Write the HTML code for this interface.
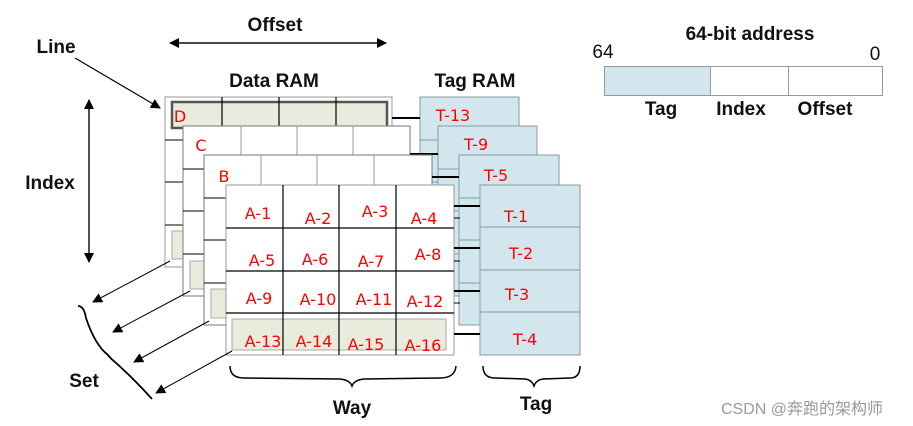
<!DOCTYPE html>
<html><head><meta charset="utf-8"><style>
html,body{margin:0;padding:0;background:#fff;}
svg{display:block;font-family:"Liberation Sans",Arial,sans-serif;}
.b{font-weight:bold;font-size:19px;fill:#111;}
.r{fill:#f00;font-size:16px;text-anchor:middle;font-family:"DejaVu Sans","Liberation Sans",sans-serif;}
</style></head><body>
<svg width="913" height="426" viewBox="0 0 913 426" xmlns="http://www.w3.org/2000/svg">
<defs><marker id="ah" markerWidth="10" markerHeight="10" refX="9" refY="5" orient="auto" markerUnits="userSpaceOnUse"><path d="M0,0 L10,5 L0,10 z" fill="#000"/></marker></defs>

<text x="275" y="31" class="b" text-anchor="middle">Offset</text>
<line x1="170" y1="43" x2="386" y2="43" stroke="#000" stroke-width="1.2" marker-end="url(#ah)"/>
<line x1="386" y1="43" x2="170" y2="43" stroke="#000" stroke-width="1.2" marker-end="url(#ah)"/>
<text x="56" y="53" class="b" text-anchor="middle">Line</text>
<line x1="75" y1="58" x2="160" y2="108" stroke="#000" stroke-width="1.2" marker-end="url(#ah)"/>
<text x="274" y="87" class="b" text-anchor="middle">Data RAM</text>
<text x="475" y="87" class="b" text-anchor="middle">Tag RAM</text>
<text x="50" y="189" class="b" text-anchor="middle">Index</text>
<line x1="89" y1="100" x2="89" y2="262" stroke="#000" stroke-width="1.2" marker-end="url(#ah)"/>
<line x1="89" y1="262" x2="89" y2="100" stroke="#000" stroke-width="1.2" marker-end="url(#ah)"/>

<g stroke="#8a9aa0" stroke-width="1">
<rect x="420" y="97" width="99" height="170" fill="#d2e6ee"/>
<line x1="420" y1="140" x2="519" y2="140"/><line x1="420" y1="182" x2="519" y2="182"/><line x1="420" y1="225" x2="519" y2="225"/>
<rect x="438" y="126" width="99" height="170" fill="#d2e6ee"/>
<line x1="438" y1="169" x2="537" y2="169"/><line x1="438" y1="211" x2="537" y2="211"/><line x1="438" y1="254" x2="537" y2="254"/>
<rect x="459" y="155" width="100" height="170" fill="#d2e6ee"/>
<line x1="459" y1="198" x2="559" y2="198"/><line x1="459" y1="240" x2="559" y2="240"/><line x1="459" y1="283" x2="559" y2="283"/>
<rect x="480" y="185" width="100" height="170" fill="#d2e6ee"/>
<line x1="480" y1="227" x2="580" y2="227"/><line x1="480" y1="270" x2="580" y2="270"/><line x1="480" y1="312" x2="580" y2="312"/>
</g>

<rect x="165" y="97" width="227" height="170" fill="#fff" stroke="#999"/>
<g stroke="#000"><line x1="165" y1="140" x2="392" y2="140"/><line x1="165" y1="182" x2="392" y2="182"/><line x1="165" y1="225" x2="392" y2="225"/></g>
<rect x="172" y="102" width="215" height="26" fill="#e8ecdc" stroke="#555" stroke-width="2.5"/>
<g stroke="#000" stroke-width="1.2"><line x1="222" y1="97" x2="222" y2="128"/><line x1="279" y1="97" x2="279" y2="128"/><line x1="336" y1="97" x2="336" y2="128"/></g>
<rect x="172" y="231" width="215" height="28" fill="#e8ecdc" stroke="#aaa"/>
<text x="180" y="122" class="r">D</text>
<line x1="392" y1="118" x2="420" y2="118" stroke="#000" stroke-width="2"/>
<text x="453" y="121" class="r">T-13</text>

<rect x="183" y="126" width="227" height="170" fill="#fff" stroke="#777"/>
<g stroke="#999"><line x1="241" y1="126" x2="241" y2="155"/><line x1="297" y1="126" x2="297" y2="155"/><line x1="353" y1="126" x2="353" y2="155"/></g>
<g stroke="#000"><line x1="183" y1="169" x2="410" y2="169"/><line x1="183" y1="211" x2="410" y2="211"/><line x1="183" y1="254" x2="410" y2="254"/></g>
<rect x="190" y="261" width="215" height="28" fill="#e8ecdc" stroke="#aaa"/>
<text x="201" y="151" class="r">C</text>
<line x1="410" y1="154" x2="438" y2="154" stroke="#000" stroke-width="2"/>
<text x="476" y="150" class="r">T-9</text>

<rect x="204" y="155" width="228" height="170" fill="#fff" stroke="#777"/>
<g stroke="#999"><line x1="261" y1="155" x2="261" y2="185"/><line x1="317" y1="155" x2="317" y2="185"/><line x1="374" y1="155" x2="374" y2="185"/></g>
<g stroke="#000"><line x1="204" y1="198" x2="432" y2="198"/><line x1="204" y1="240" x2="432" y2="240"/><line x1="204" y1="283" x2="432" y2="283"/></g>
<rect x="211" y="289" width="215" height="29" fill="#e8ecdc" stroke="#aaa"/>
<text x="224" y="182" class="r">B</text>
<line x1="432" y1="177" x2="459" y2="177" stroke="#000" stroke-width="2"/>
<text x="496" y="181" class="r">T-5</text>

<rect x="226" y="185" width="228" height="170" fill="#fff" stroke="#999"/>
<rect x="232" y="319" width="214" height="31" fill="#e8ecdc" stroke="#aaa"/>
<g stroke="#000" stroke-width="1.2">
<line x1="226" y1="228" x2="454" y2="228"/><line x1="226" y1="271" x2="454" y2="271"/><line x1="226" y1="313" x2="454" y2="313"/>
<line x1="283" y1="185" x2="283" y2="355"/><line x1="339" y1="185" x2="339" y2="355"/><line x1="396" y1="185" x2="396" y2="355"/>
</g>
<g stroke="#000" stroke-width="2">
<line x1="454" y1="206" x2="480" y2="206"/><line x1="454" y1="248" x2="480" y2="248"/><line x1="454" y1="291" x2="480" y2="291"/><line x1="454" y1="334" x2="480" y2="334"/>
</g>
<g stroke="#000" stroke-width="1"><line x1="454" y1="218" x2="460" y2="218"/><line x1="454" y1="261" x2="460" y2="261"/><line x1="454" y1="303" x2="460" y2="303"/></g>
<text x="516" y="222" class="r">T-1</text>
<text x="521" y="259" class="r">T-2</text>
<text x="517" y="300" class="r">T-3</text>
<text x="525" y="345" class="r">T-4</text>

<text x="258" y="219" class="r">A-1</text><text x="318" y="224" class="r">A-2</text><text x="375" y="217" class="r">A-3</text><text x="424" y="224" class="r">A-4</text>
<text x="262" y="266" class="r">A-5</text><text x="315" y="265" class="r">A-6</text><text x="371" y="267" class="r">A-7</text><text x="428" y="260" class="r">A-8</text>
<text x="259" y="304" class="r">A-9</text><text x="318" y="305" class="r">A-10</text><text x="374" y="305" class="r">A-11</text><text x="425" y="307" class="r">A-12</text>
<text x="263" y="347" class="r">A-13</text><text x="314" y="347" class="r">A-14</text><text x="366" y="350" class="r">A-15</text><text x="423" y="351" class="r">A-16</text>

<g stroke="#000" stroke-width="1" marker-end="url(#ah)">
<line x1="170" y1="261" x2="93" y2="302"/>
<line x1="190" y1="291" x2="113" y2="332"/>
<line x1="209" y1="321" x2="134" y2="362"/>
<line x1="232" y1="351" x2="156" y2="393"/>
</g>
<path d="M78,306 Q84,306 86,318 Q95,345 108,355 Q110,358 115,362 Q135,380 152,399" fill="none" stroke="#000" stroke-width="1.8"/>
<text x="84" y="387" class="b" text-anchor="middle">Set</text>

<path d="M230,366 Q230,378 244,378 L340,379 Q350,380 352,386 Q354,380 364,379 L440,378 Q455,378 456,366" fill="none" stroke="#000" stroke-width="1.5"/>
<text x="352" y="414" class="b" text-anchor="middle">Way</text>
<path d="M483,366 Q483,378 495,378 L525,379 Q532,380 534,386 Q536,380 543,379 L570,378 Q580,378 580,366" fill="none" stroke="#000" stroke-width="1.5"/>
<text x="536" y="410" class="b" text-anchor="middle">Tag</text>

<text x="750" y="40" class="b" text-anchor="middle">64-bit address</text>
<text x="603" y="58" font-size="19" fill="#111" text-anchor="middle">64</text>
<text x="875" y="60" font-size="19" fill="#111" text-anchor="middle">0</text>
<rect x="604.5" y="66.5" width="106" height="29" fill="#d2e6ee" stroke="#999"/>
<rect x="710.5" y="66.5" width="78" height="29" fill="#fff" stroke="#999"/>
<rect x="788.5" y="66.5" width="94" height="29" fill="#fff" stroke="#999"/>
<text x="661" y="115" class="b" text-anchor="middle">Tag</text>
<text x="741" y="115" class="b" text-anchor="middle">Index</text>
<text x="825" y="115" class="b" text-anchor="middle">Offset</text>

<text x="802" y="414" font-size="16" fill="#999" text-anchor="middle" font-family="Liberation Sans, Noto Sans CJK SC, sans-serif">CSDN @奔跑的架构师</text>
</svg>
</body></html>
